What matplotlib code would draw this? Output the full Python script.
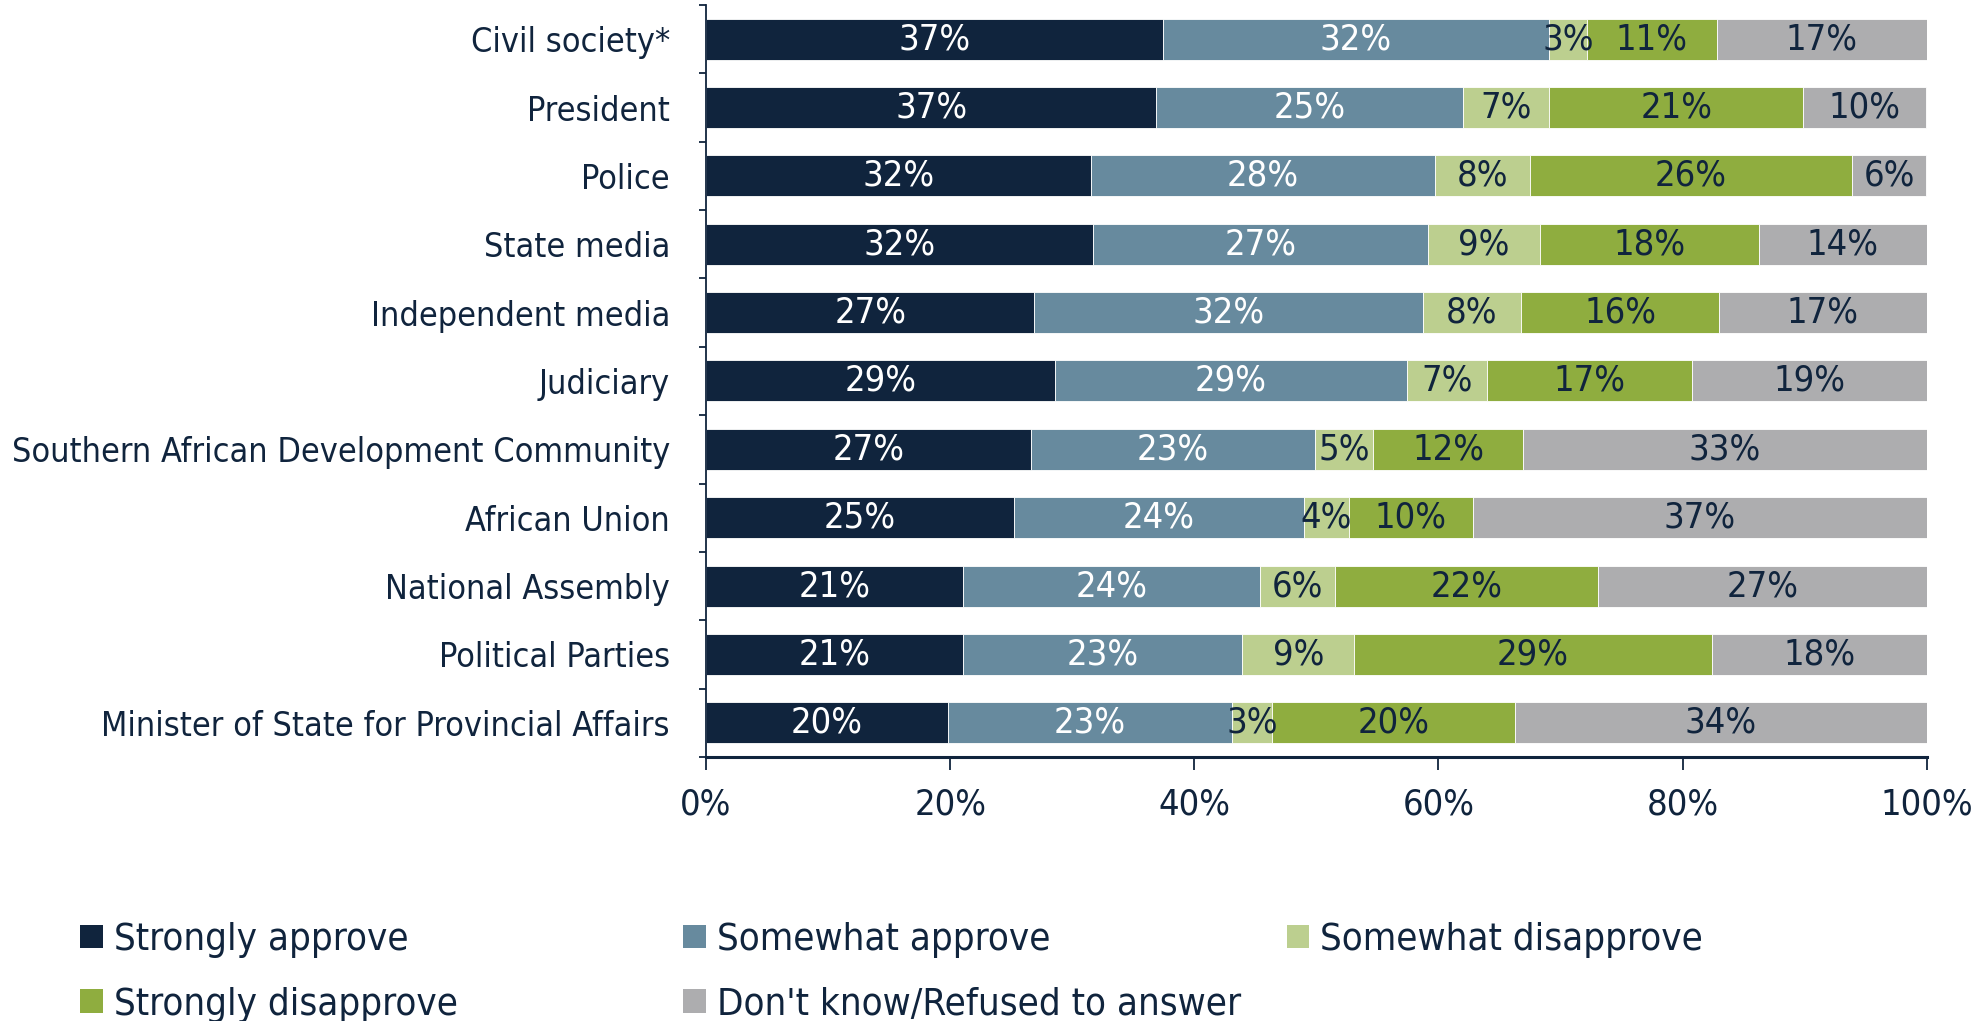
import numpy as np
import matplotlib
matplotlib.use("Agg")
import matplotlib.pyplot as plt
from matplotlib.patches import Patch

plt.rcParams['font.family'] = ['DejaVu Sans']
plt.rcParams['font.stretch'] = 'condensed'

categories = [
    "Civil society*",
    "President",
    "Police",
    "State media",
    "Independent media",
    "Judiciary",
    "Southern African Development Community",
    "African Union",
    "National Assembly",
    "Political Parties",
    "Minister of State for Provincial Affairs",
]
strongly_approve = [37.4, 36.9, 31.5, 31.7, 26.9, 28.6, 26.6, 25.2, 21.05, 21.05, 19.8]
somewhat_approve = [31.7, 25.1, 28.2, 27.45, 31.8, 28.8, 23.3, 23.8, 24.3, 22.9, 23.3]
somewhat_disapprove = [3.05, 7.05, 7.84, 9.17, 8.1, 6.6, 4.75, 3.66, 6.14, 9.15, 3.3]
strongly_disapprove = [10.66, 20.86, 26.32, 17.94, 16.2, 16.8, 12.3, 10.18, 21.6, 29.3, 19.9]
dont_know = [17.2, 10.05, 6.12, 13.74, 17.0, 19.25, 33.07, 37.17, 26.9, 17.65, 33.7]

series_names = ["Strongly approve", "Somewhat approve", "Somewhat disapprove",
                "Strongly disapprove", "Don't know/Refused to answer"]
series = [strongly_approve, somewhat_approve, somewhat_disapprove,
          strongly_disapprove, dont_know]
colors = ["#10243D", "#678A9E", "#BCCF8F", "#8FAD3F", "#ADADAF"]
text_colors = ["white", "white", "#10243D", "#10243D", "#10243D"]
navy = "#10243D"

fig = plt.figure(figsize=(19.71, 10.21), dpi=100)
ax = fig.add_axes([0.3582, 0.2586, 0.6193, 0.7365])

y = np.arange(len(categories))
left = np.zeros(len(categories))
for vals, c, tc in zip(series, colors, text_colors):
    vals = np.array(vals)
    ax.barh(y, vals, left=left, height=0.6, color=c, edgecolor="white", linewidth=0.6)
    for yi, l, v in zip(y, left, vals):
        ax.text(l + v / 2, yi, f"{v:.0f}%", ha="center", va="center",
                fontsize=26, color=tc)
    left += vals

ax.set_xlim(0, 100)
ax.set_ylim(len(categories) - 0.5, -0.5)
ax.set_xticks(np.arange(0, 101, 20))
ax.set_xticklabels([f"{t}%" for t in range(0, 101, 20)])
ax.set_yticks(y)
ax.set_yticklabels(categories)
ax.set_yticks(np.arange(-0.5, len(categories), 1), minor=True)

ax.tick_params(axis="y", which="major", length=0, pad=26, labelsize=24.5, labelcolor=navy)
ax.tick_params(axis="y", which="minor", length=5, width=1.3, color=navy, direction="out")
ax.tick_params(axis="x", length=9, width=1.3, color=navy, pad=13, labelsize=26, labelcolor=navy)

for s in ["top", "right"]:
    ax.spines[s].set_visible(False)
ax.spines["left"].set_color(navy)
ax.spines["left"].set_linewidth(1.3)
ax.spines["bottom"].set_color(navy)
ax.spines["bottom"].set_linewidth(2.2)

# legend laid out row by row, one legend per column
handles = [Patch(facecolor=c, edgecolor="none") for c in colors]
cols = [[0, 3], [1, 4], [2]]
col_x = [0.033, 0.339, 0.645]
for cx, idx in zip(col_x, cols):
    leg = fig.legend([handles[i] for i in idx], [series_names[i] for i in idx],
                     loc="upper left", bbox_to_anchor=(cx, 0.112), frameon=False,
                     fontsize=27.5, handlelength=0.6, handleheight=0.57,
                     handletextpad=0.28, labelspacing=0.75, borderaxespad=0)
    for t in leg.get_texts():
        t.set_color(navy)

fig.savefig("out.png", dpi=100)
